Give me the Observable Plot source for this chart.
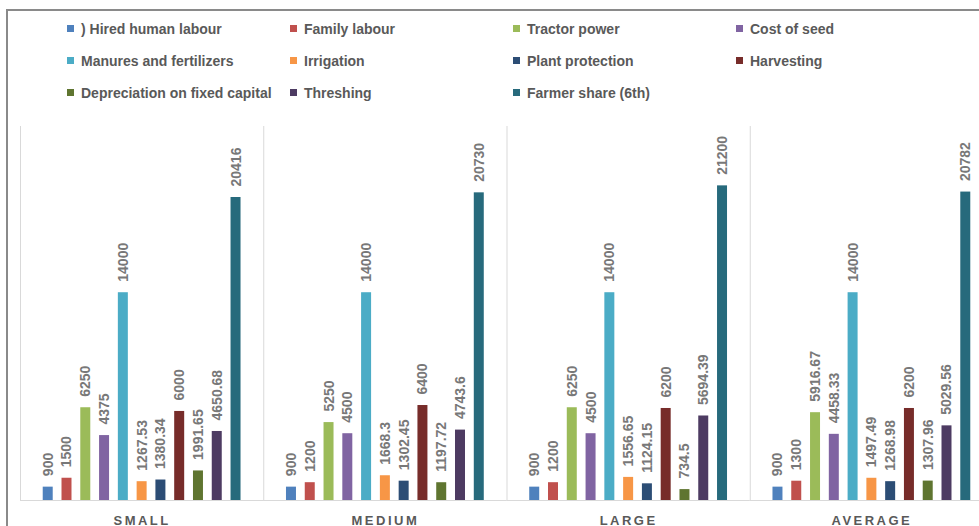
<!DOCTYPE html>
<html>
<head>
<meta charset="utf-8">
<script src="https://cdn.jsdelivr.net/npm/d3@7"></script>
<script src="https://cdn.jsdelivr.net/npm/@observablehq/plot@0.6"></script>
<style>
html, body { margin: 0; padding: 0; background: #fff; overflow: hidden; width: 979px; height: 526px; position: relative; }
#frame { position: absolute; left: 6px; top: 9px; width: 1400px; height: 900px; border-left: 2px solid #8a8a8a; border-top: 2px solid #8a8a8a; box-sizing: border-box; }
#legend { position: absolute; left: 0; top: 0; width: 979px; height: 110px; font-family: "Liberation Sans", Arial, sans-serif; font-size: 14px; font-weight: bold; color: #595959; }
.item { position: absolute; white-space: nowrap; height: 16px; line-height: 16px; }
.sw { position: absolute; left: 0; top: 4px; width: 7px; height: 7px; }
.lbl { position: absolute; left: 14px; top: 0; }
#chart { position: absolute; left: 0; top: 110px; width: 1000px; }
#chart svg { overflow: visible; max-width: none !important; }
#chart g[aria-label="fx-axis tick label"] text { letter-spacing: 2.5px; }
</style>
</head>
<body>
<div id="frame"></div>
<div id="legend"></div>
<div id="chart"></div>
<script>
// ---- data ----
const groups = ["SMALL", "MEDIUM", "LARGE", "AVERAGE"];
const series = [
  ") Hired human labour", "Family labour", "Tractor power", "Cost of seed",
  "Manures and fertilizers", "Irrigation", "Plant protection", "Harvesting",
  "Depreciation on fixed capital", "Threshing", "Farmer share (6th)"
];
const hiredLabour   = [900, 900, 900, 900];
const familyLabour  = [1500, 1200, 1200, 1300];
const tractorPower  = [6250, 5250, 6250, 5916.67];
const costOfSeed    = [4375, 4500, 4500, 4458.33];
const manures       = [14000, 14000, 14000, 14000];
const irrigation    = [1267.53, 1668.3, 1556.65, 1497.49];
const plantProt     = [1380.34, 1302.45, 1124.15, 1268.98];
const harvesting    = [6000, 6400, 6200, 6200];
const depreciation  = [1991.65, 1197.72, 734.5, 1307.96];
const threshing     = [4650.68, 4743.6, 5694.39, 5029.56];
const farmerShare   = [20416, 20730, 21200, 20782];
const colors = ["#4F81BD", "#C0504D", "#9BBB59", "#8064A2", "#4BACC6", "#F79646",
                "#2C4D75", "#772C2A", "#5F7530", "#4D3B62", "#276A7C"];

const seriesValues = [hiredLabour, familyLabour, tractorPower, costOfSeed, manures, irrigation,
                      plantProt, harvesting, depreciation, threshing, farmerShare];
const rows = [];
groups.forEach((g, gi) => series.forEach((s, si) => rows.push({group: g, series: s, value: seriesValues[si][gi]})));

// ---- legend ----
const legend = document.getElementById("legend");
series.forEach((s, i) => {
  const col = i % 4, row = Math.floor(i / 4);
  const item = document.createElement("div");
  item.className = "item";
  item.style.left = (67 + col * 223) + "px";
  item.style.top = (21 + row * 32) + "px";
  const sw = document.createElement("span");
  sw.className = "sw";
  sw.style.background = colors[i];
  const lb = document.createElement("span");
  lb.className = "lbl";
  lb.textContent = s;
  item.appendChild(sw); item.appendChild(lb);
  legend.appendChild(item);
});

// ---- chart ----
const chart = Plot.plot({
  width: 1000,
  height: 416,
  marginLeft: 20,
  marginRight: 7,
  marginTop: 16,
  marginBottom: 26,
  style: {fontFamily: "'Liberation Sans', Arial, sans-serif", background: "transparent", maxWidth: "none"},
  fx: {domain: groups, padding: 0, label: null, round: false},
  x: {domain: series, paddingInner: 0.468, paddingOuter: 1.21, round: false, axis: null},
  y: {domain: [0, 25200], axis: null},
  color: {domain: series, range: colors},
  marks: [
    Plot.frame({anchor: "left", stroke: "#d9d9d9"}),
    Plot.ruleY([0], {stroke: "#d9d9d9"}),
    Plot.barY(rows, {fx: "group", x: "series", y: "value", fill: "series"}),
    Plot.text(rows, {fx: "group", x: "series", y: "value", text: d => String(d.value),
      rotate: -90, textAnchor: "start", lineAnchor: "middle", dy: -11,
      fill: "#787878", fontSize: 14, fontWeight: "bold"}),
    Plot.axisFx({anchor: "bottom", tickSize: 0, tickPadding: 15, label: null,
      fontSize: 13, fontWeight: "bold", fill: "#595959"})
  ]
});
document.getElementById("chart").appendChild(chart);
</script>
</body>
</html>
